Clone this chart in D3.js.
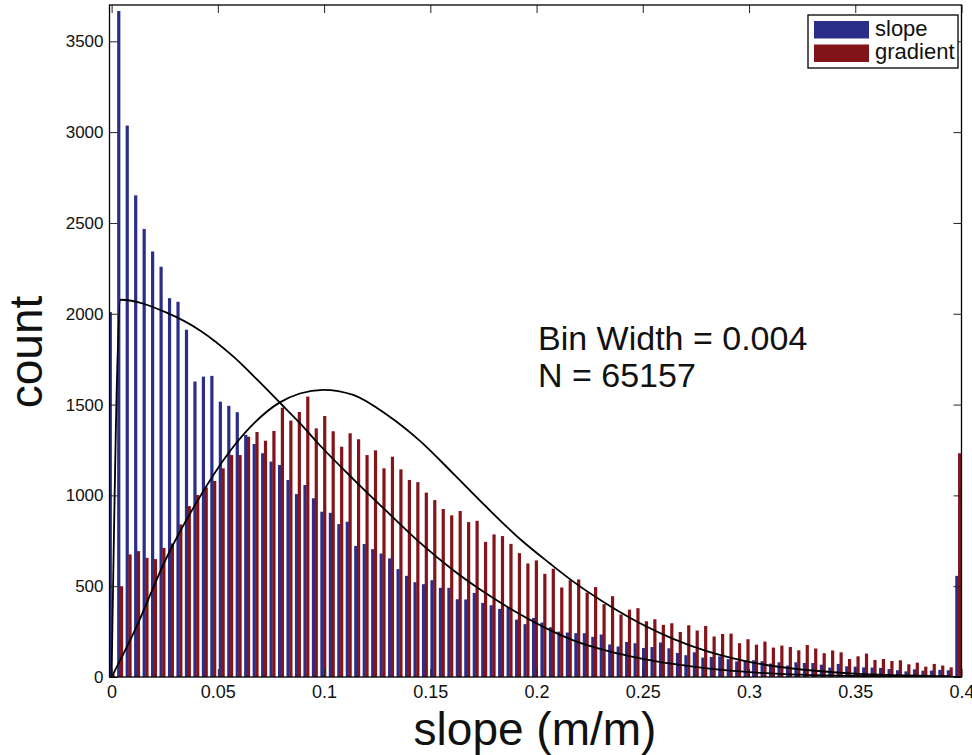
<!DOCTYPE html>
<html>
<head>
<meta charset="utf-8">
<script src="https://cdn.jsdelivr.net/npm/d3@7"></script>
<style>
  body { margin: 0; background: #fff; }
  svg { display: block; font-family: "Liberation Sans", Arial, Helvetica, sans-serif; }
</style>
</head>
<body>
<svg id="chart" width="972" height="755"></svg>
<script>
// histogram counts, one value per 0.004 bin (0 .. 0.4)
const slopeCounts = [
  2009, 3667, 3036, 2652, 2467, 2343, 2259, 2086, 2066, 1912,
  1627, 1654, 1658, 1516, 1493, 1458, 1333, 1283, 1232, 1186,
  1167, 1085, 1007, 1057, 984, 910, 904, 842, 855, 722,
  732, 704, 680, 653, 594, 557, 522, 511, 533, 491,
  491, 428, 427, 463, 408, 395, 375, 384, 316, 291,
  325, 300, 274, 250, 245, 241, 241, 221, 234, 179,
  168, 193, 186, 160, 165, 190, 158, 132, 120, 136,
  107, 110, 114, 98, 86, 88, 92, 87, 74, 81,
  63, 81, 77, 77, 68, 52, 72, 59, 57, 53,
  52, 50, 44, 37, 31, 42, 35, 35, 39, 37,
  557
];
const gradientCounts = [
  15, 500, 675, 693, 656, 649, 711, 735, 840, 941,
  1002, 1044, 1079, 1149, 1222, 1222, 1323, 1349, 1301, 1355,
  1483, 1412, 1459, 1544, 1369, 1437, 1353, 1268, 1342, 1309,
  1222, 1248, 1149, 1213, 1143, 1085, 1073, 1015, 974, 925,
  890, 914, 853, 860, 744, 785, 776, 733, 682, 625,
  642, 568, 596, 493, 533, 537, 465, 495, 401, 445,
  344, 371, 379, 307, 318, 287, 296, 248, 285, 256,
  281, 223, 237, 239, 186, 208, 178, 195, 162, 173,
  165, 147, 176, 157, 131, 146, 136, 99, 114, 129,
  94, 99, 88, 92, 70, 79, 57, 72, 63, 53,
  1232
];

// fitted curves as [slope, count]
const slopeFit = [
  [0, 0], [0.0042, 2077], [0.0259, 2006], [0.0416, 1908], [0.0572, 1765],
  [0.0683, 1640], [0.0792, 1510], [0.0886, 1398], [0.098, 1276], [0.1137, 1090],
  [0.1294, 913], [0.1451, 740], [0.1608, 588], [0.1765, 458], [0.1922, 345],
  [0.2063, 258], [0.2173, 202], [0.233, 145], [0.2487, 103], [0.2643, 72],
  [0.2801, 48], [0.2957, 31], [0.3052, 23], [0.3475, 6], [0.4, 1]
];
const gradientFit = [
  [0, 0], [0.0102, 239], [0.0259, 658], [0.0416, 993], [0.0572, 1266],
  [0.0792, 1512], [0.0886, 1561], [0.0996, 1581], [0.1137, 1553], [0.1294, 1445],
  [0.1451, 1300], [0.1608, 1120], [0.1765, 935], [0.1922, 760], [0.2063, 625],
  [0.2173, 525], [0.233, 402], [0.2487, 296], [0.2643, 210], [0.2801, 142],
  [0.2957, 94], [0.3052, 72], [0.3475, 20], [0.3946, 4]
];

const xTicks = [0, 0.05, 0.1, 0.15, 0.2, 0.25, 0.3, 0.35, 0.4];
const yTicks = [0, 500, 1000, 1500, 2000, 2500, 3000, 3500];
const seriesNames = ["slope", "gradient"];
const seriesColors = ["#2b2e88", "#83141a"];

const svg = d3.select("#chart");
const plotLeft = 109.5, plotRight = 961.5, plotTop = 5, plotBottom = 677;

const x = d3.scaleLinear().domain([-0.001, 0.4]).range([plotLeft, plotRight]);
const y = d3.scaleLinear().domain([0, 3700]).range([plotBottom, plotTop]);
const bins = d3.scaleBand().domain(d3.range(slopeCounts.length)).range([108.7, 963.7]).padding(0);

svg.append("clipPath").attr("id", "plotclip")
  .append("rect").attr("x", plotLeft).attr("y", plotTop)
  .attr("width", plotRight - plotLeft).attr("height", plotBottom - plotTop);

const plot = svg.append("g").attr("clip-path", "url(#plotclip)");

plot.append("g").selectAll("rect")
  .data(slopeCounts)
  .enter().append("rect")
  .attr("x", (d, i) => bins(i))
  .attr("width", 3.2)
  .attr("y", d => y(d))
  .attr("height", d => plotBottom - y(d))
  .attr("fill", seriesColors[0]);

plot.append("g").selectAll("rect")
  .data(gradientCounts)
  .enter().append("rect")
  .attr("x", (d, i) => bins(i) + 2.8)
  .attr("width", 3.2)
  .attr("y", d => y(d))
  .attr("height", d => plotBottom - y(d))
  .attr("fill", seriesColors[1]);

const line = d3.line().x(d => x(d[0])).y(d => y(d[1])).curve(d3.curveMonotoneX);
[slopeFit, gradientFit].forEach(fit => {
  plot.append("path").datum(fit)
    .attr("d", line)
    .attr("fill", "none")
    .attr("stroke", "#000")
    .attr("stroke-width", 1.8);
});

// axes, ticks pointing inward like matlab
const fmt = d => d === 0 ? "0" : String(+d.toFixed(2));
const gx = svg.append("g").attr("transform", `translate(0,${plotBottom})`)
  .call(d3.axisBottom(x).tickValues(xTicks).tickSize(-8).tickPadding(8).tickFormat(fmt));
svg.append("g").attr("transform", `translate(0,${plotTop})`)
  .call(d3.axisTop(x).tickValues(xTicks).tickSize(-8).tickFormat(""));
const gy = svg.append("g").attr("transform", `translate(${plotLeft},0)`)
  .call(d3.axisLeft(y).tickValues(yTicks).tickSize(-8).tickPadding(6).tickFormat(d3.format("d")));
svg.append("g").attr("transform", `translate(${plotRight},0)`)
  .call(d3.axisRight(y).tickValues(yTicks).tickSize(-8).tickFormat(""));

svg.selectAll(".domain").remove();
svg.selectAll(".tick line").attr("stroke", "#222").attr("stroke-width", 1);
svg.selectAll(".tick text").attr("fill", "#111").style("font-size", "17px").style("font-family", "'Liberation Sans', Arial, sans-serif");
gx.selectAll(".tick text").style("font-size", "18px");

svg.append("rect")
  .attr("x", plotLeft).attr("y", plotTop)
  .attr("width", plotRight - plotLeft).attr("height", plotBottom - plotTop)
  .attr("fill", "none").attr("stroke", "#000").attr("stroke-width", 1.3);

// labels
svg.append("text")
  .attr("x", 535).attr("y", 745)
  .attr("text-anchor", "middle")
  .style("font-size", "46px").attr("fill", "#111")
  .text("slope (m/m)");

svg.append("text")
  .attr("transform", "translate(42,352) rotate(-90)")
  .attr("text-anchor", "middle")
  .style("font-size", "46px").attr("fill", "#111")
  .text("count");

svg.append("text").attr("x", 538).attr("y", 350)
  .style("font-size", "34px").attr("fill", "#111")
  .text("Bin Width = 0.004");
svg.append("text").attr("x", 538).attr("y", 387)
  .style("font-size", "34px").attr("fill", "#111")
  .text("N = 65157");

// legend
const legend = svg.append("g");
legend.append("rect")
  .attr("x", 808).attr("y", 15).attr("width", 150).attr("height", 53)
  .attr("fill", "#fff").attr("stroke", "#000").attr("stroke-width", 1.3);
seriesNames.forEach((name, i) => {
  legend.append("rect")
    .attr("x", 814).attr("y", 21 + i * 23.5)
    .attr("width", 55).attr("height", 17.5)
    .attr("fill", seriesColors[i]);
  legend.append("text")
    .attr("x", 875).attr("y", 36 + i * 23)
    .style("font-size", "22px").attr("fill", "#111")
    .text(name);
});
</script>
</body>
</html>
